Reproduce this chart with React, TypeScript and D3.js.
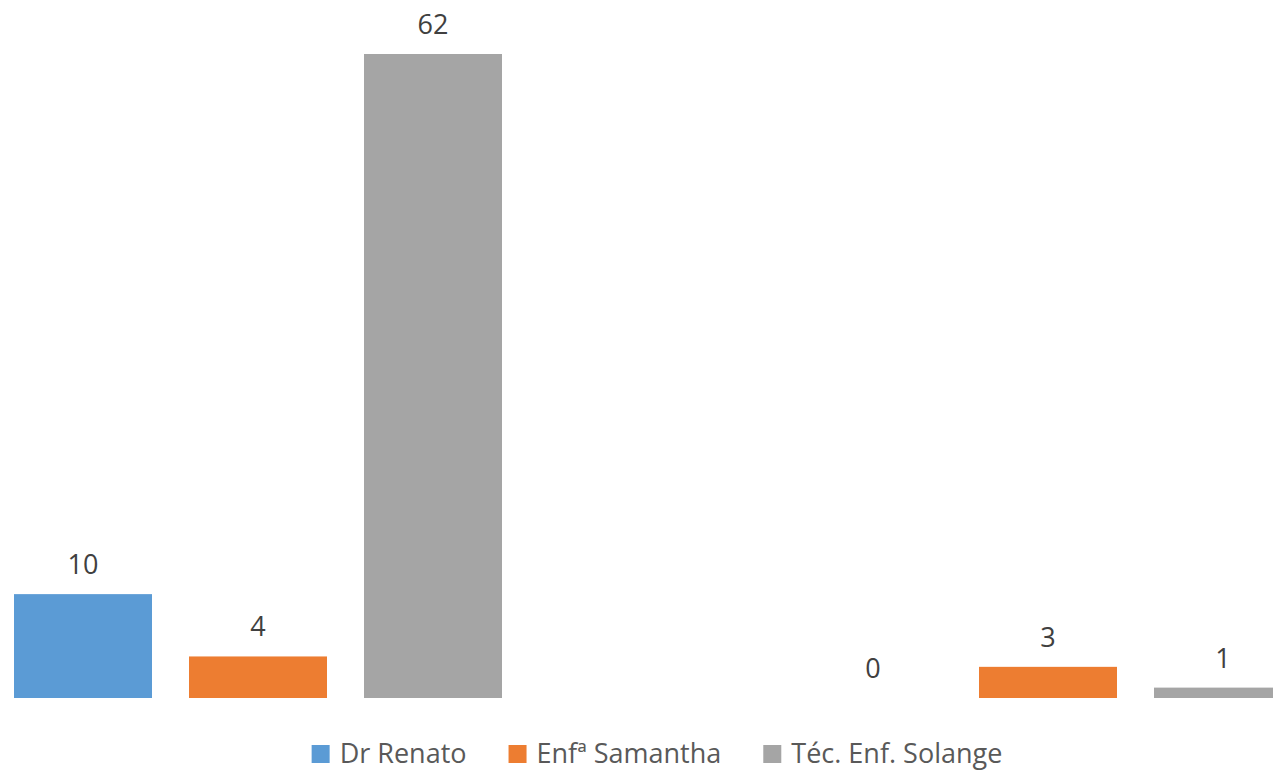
import React, { useRef, useEffect } from "react";
import * as d3 from "d3";

// categories (no axis labels shown in the chart)
const groups = ["Período 1", "Período 2"];
const seriesNames = ["Dr Renato", "Enfª Samantha", "Téc. Enf. Solange"];
const drRenato = [10, 0];
const enfSamantha = [4, 3];
const tecSolange = [62, 1];
const colors = ["#5B9BD5", "#ED7D31", "#A5A5A5"];

const WIDTH = 1273;
const HEIGHT = 770;
const FONT = "'Open Sans', sans-serif";

const App = () => {
  const svgRef = useRef<SVGSVGElement>(null);

  useEffect(() => {
    const svg = d3.select(svgRef.current);
    svg.selectAll("*").remove();

    const values = [drRenato, enfSamantha, tecSolange];
    const rows = groups.map((g, gi) => ({
      group: g,
      items: seriesNames.map((s, si) => ({ series: s, value: values[si][gi], color: colors[si] })),
    }));

    // plot area is wider than the visible picture (right side clipped)
    const x0 = d3.scaleBand().domain(groups).range([-137, 1443]).padding(0);
    const x1 = d3
      .scaleBand()
      .domain(seriesNames)
      .range([132.5, 657.5])
      .paddingInner(37 / 175)
      .paddingOuter(18.5 / 175);
    const y = d3.scaleLinear().domain([0, 62]).range([698, 54]);

    const g = svg.append("g");

    const grp = g
      .selectAll("g.grp")
      .data(rows)
      .join("g")
      .attr("class", "grp")
      .attr("transform", (d) => `translate(${x0(d.group)},0)`);

    grp
      .selectAll("rect")
      .data((d) => d.items)
      .join("rect")
      .attr("x", (d) => x1(d.series)!)
      .attr("y", (d) => y(d.value))
      .attr("width", x1.bandwidth())
      .attr("height", (d) => y(0) - y(d.value))
      .attr("fill", (d) => d.color);

    grp
      .selectAll("text")
      .data((d) => d.items)
      .join("text")
      .attr("x", (d) => x1(d.series)! + x1.bandwidth() / 2)
      .attr("y", (d) => y(d.value) - 20)
      .attr("text-anchor", "middle")
      .attr("font-family", FONT)
      .attr("font-size", 27)
      .attr("fill", "#404040")
      .text((d) => d.value);

    // legend
    const legend = svg.append("g");
    const items = legend
      .selectAll("g")
      .data(seriesNames)
      .join("g");

    items
      .append("rect")
      .attr("width", 18)
      .attr("height", 18)
      .attr("y", 745)
      .attr("fill", (d, i) => colors[i]);

    items
      .append("text")
      .attr("x", 28)
      .attr("y", 763)
      .attr("font-family", FONT)
      .attr("font-size", 27)
      .attr("fill", "#595959")
      .text((d) => d);

    let offset = 0;
    const offsets: number[] = [];
    items.each(function () {
      const t = d3.select(this).select("text").node() as SVGTextElement;
      offsets.push(offset);
      offset += 28 + t.getComputedTextLength() + 42;
    });
    const total = offset - 42;
    const start = 657 - total / 2;
    items.attr("transform", (d, i) => `translate(${start + offsets[i]},0)`);
  }, []);

  return (
    <div style={{ position: "absolute", left: 0, top: 0, width: WIDTH, height: HEIGHT, background: "#fff" }}>
      <svg ref={svgRef} width={WIDTH} height={HEIGHT} style={{ display: "block", overflow: "hidden" }} />
    </div>
  );
};

export default App;
